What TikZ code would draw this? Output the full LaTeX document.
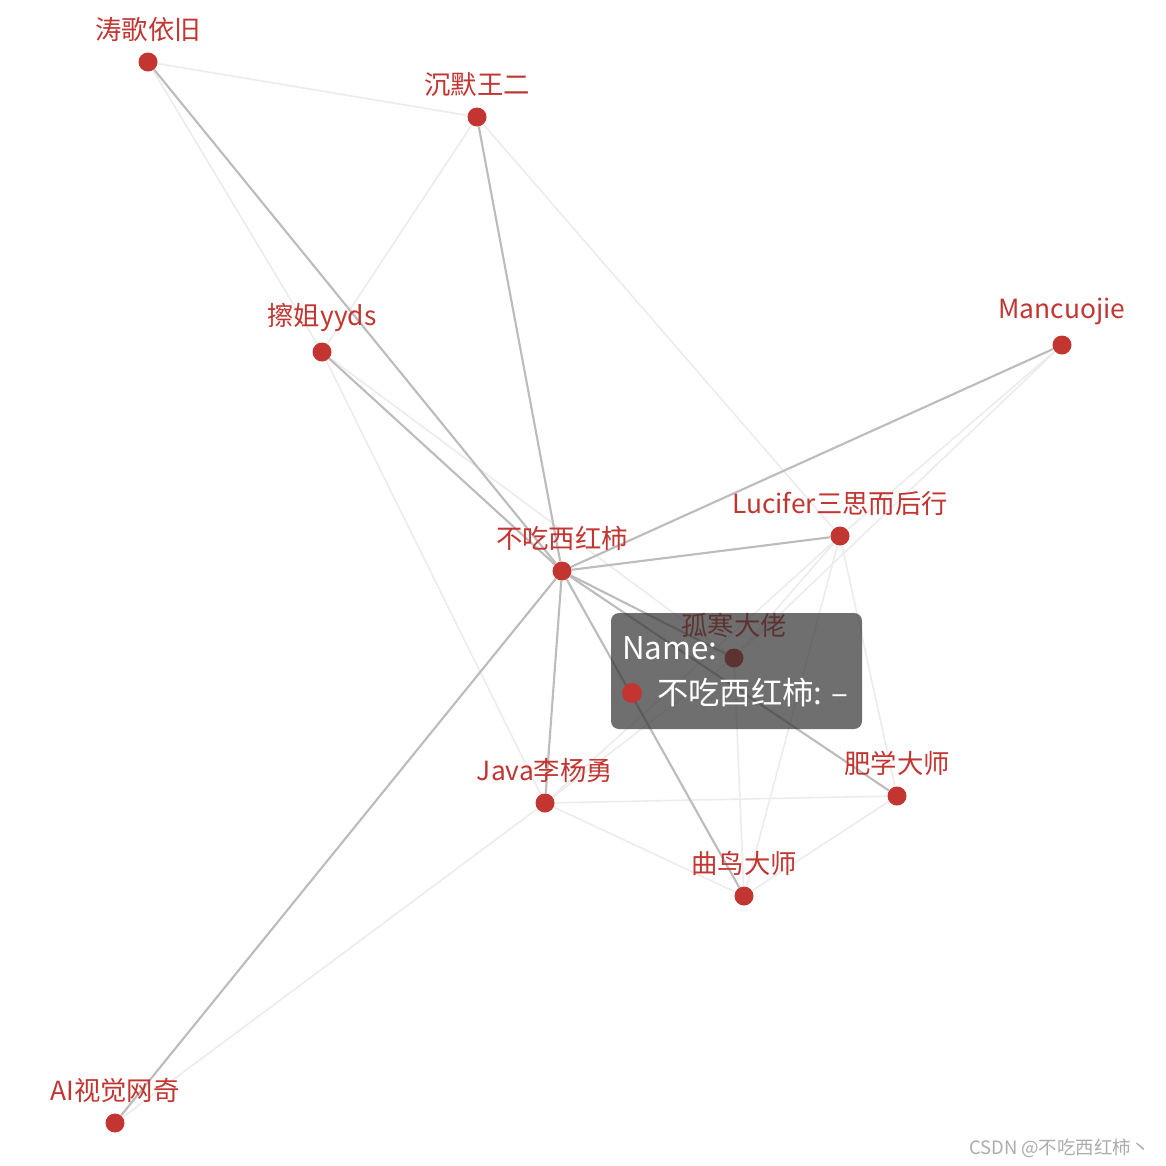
\documentclass[tikz,border=0pt]{standalone}
\usepackage{fontspec}
\setmainfont{Noto Sans CJK SC}
\usepackage{tikz}
\usetikzlibrary{backgrounds}

\definecolor{tomred}{HTML}{C23531}
\definecolor{edgedark}{HTML}{BCBCBC}
\definecolor{edgelight}{HTML}{ECECEC}

\begin{document}
\begin{tikzpicture}[
    person/.style={circle, fill=tomred, minimum size=0.38cm, inner sep=0pt},
    nick/.style={text=tomred, font=\fontsize{15}{15}\selectfont, inner sep=0pt},
    strong/.style={draw=edgedark, line width=1.2pt},
    weak/.style={draw=edgelight, line width=0.9pt},
    tipbox/.style={fill=black!80, fill opacity=0.7, rounded corners=0.16cm,
        minimum width=5.02cm, minimum height=2.32cm, inner sep=0pt},
    tiptext/.style={text=white, font=\fontsize{17.8}{17.8}\selectfont, inner sep=0pt},
    label distance=0.2cm,
    every label/.style={nick}]
            \useasboundingbox (0,0) rectangle (23.32,-23.32);

            \node[person, label={above:涛歌依旧}] (tg) at (2.96,-1.24) {};
            \node[person, label={above:沉默王二}] (cm) at (9.54,-2.34) {};
            \node[person, label={above:擦姐yyds}] (cj) at (6.44,-7.04) {};
            \node[person, label={above:Mancuojie}] (mc) at (21.24,-6.90) {};
            \node[person, label={above:Lucifer三思而后行}] (lu) at (16.80,-10.72) {};
            \node[person, label={above:不吃西红柿}] (bc) at (11.24,-11.42) {};
            \node[person, label={above:孤寒大佬}] (gh) at (14.68,-13.16) {};
            \node[person, label={above:Java李杨勇}] (jv) at (10.90,-16.06) {};
            \node[person, label={above:肥学大师}] (fx) at (17.94,-15.92) {};
            \node[person, label={above:曲鸟大师}] (qn) at (14.88,-17.92) {};
            \node[person, label={above:AI视觉网奇}] (ai) at (2.30,-22.46) {};

            \begin{scope}[on background layer]
                \fill[white] (0,0) rectangle (23.32,-23.32);

                \draw[weak] (tg) -- (cm);
                \draw[weak] (tg) -- (cj);
                \draw[weak] (cm) -- (cj);
                \draw[weak] (cm) -- (lu);
                \draw[weak] (cj) -- (gh);
                \draw[weak] (cj) -- (jv);
                \draw[weak] (mc) -- (lu);
                \draw[weak] (mc) -- (gh);
                \draw[weak] (lu) -- (gh);
                \draw[weak] (lu) -- (jv);
                \draw[weak] (lu) -- (qn);
                \draw[weak] (lu) -- (fx);
                \draw[weak] (gh) -- (qn);
                \draw[weak] (gh) -- (jv);
                \draw[weak] (jv) -- (fx);
                \draw[weak] (jv) -- (qn);
                \draw[weak] (fx) -- (qn);
                \draw[weak] (jv) -- (ai);

                \draw[strong] (bc) -- (tg);
                \draw[strong] (bc) -- (cm);
                \draw[strong] (bc) -- (cj);
                \draw[strong] (bc) -- (mc);
                \draw[strong] (bc) -- (lu);
                \draw[strong] (bc) -- (gh);
                \draw[strong] (bc) -- (fx);
                \draw[strong] (bc) -- (qn);
                \draw[strong] (bc) -- (jv);
                \draw[strong] (bc) -- (ai);
            \end{scope}

            \node[tipbox] (tip) at (14.73,-13.42) {};
            \node[tiptext, anchor=west] (tipname) at (12.44,-12.96) {Name:};
            \node[person, minimum size=0.4cm] (tipdot) at (12.64,-13.86) {};
            \node[tiptext, anchor=west] (tipval) at (13.14,-13.86) {不吃西红柿: –};

            \node[anchor=east, text=gray!65, font=\fontsize{10.5}{10.5}\selectfont, inner sep=0pt] (mark) at (23.0,-22.96) {CSDN @不吃西红柿丶};
        \end{tikzpicture}
\end{document}
